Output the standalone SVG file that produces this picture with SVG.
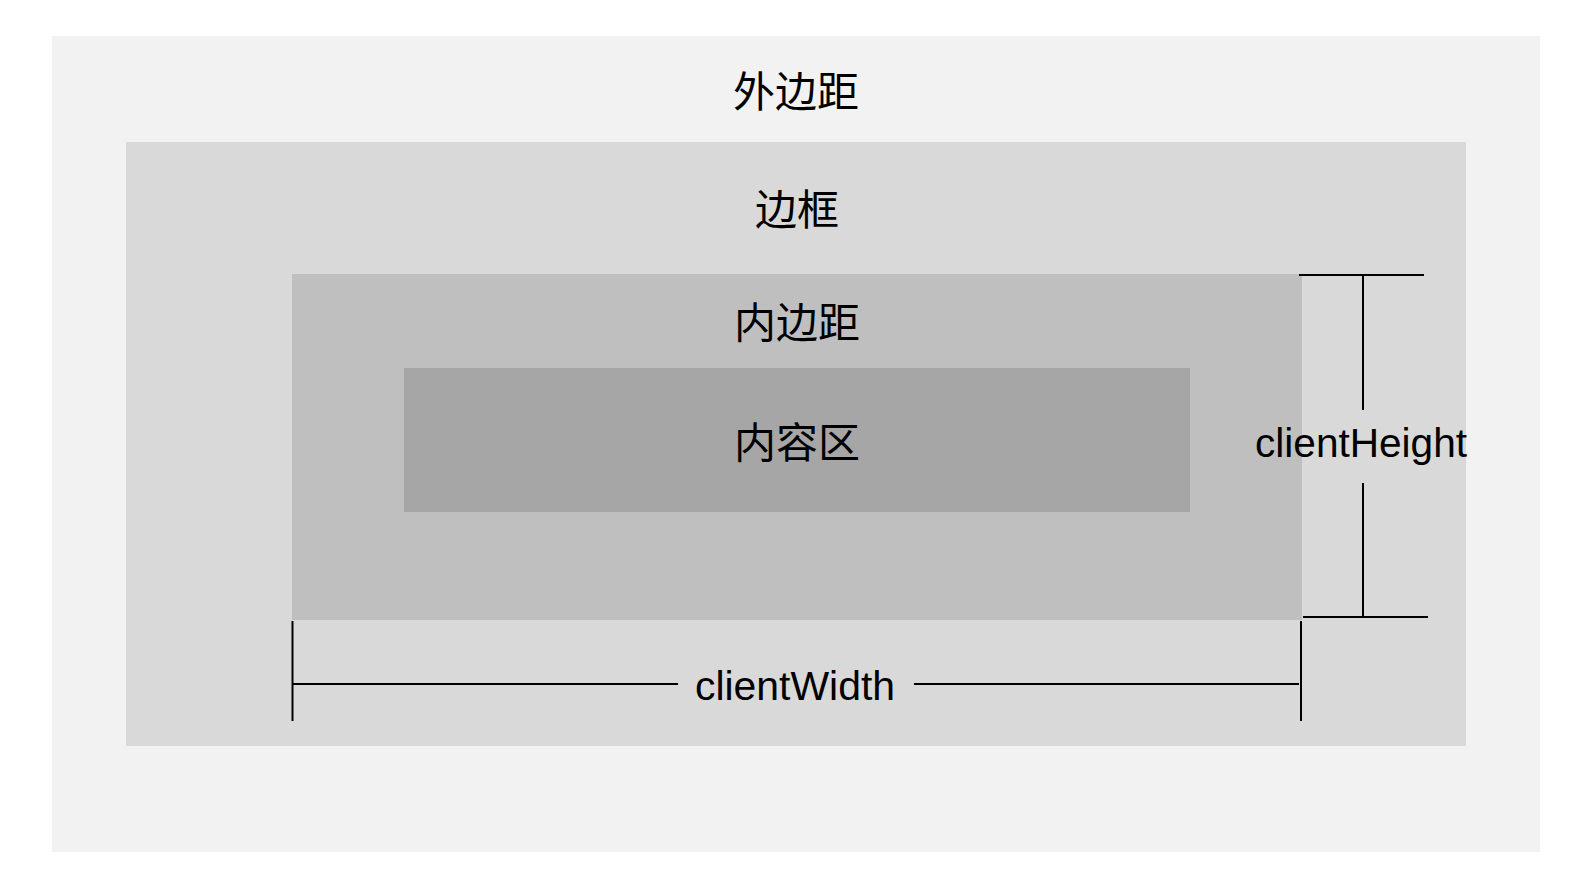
<svg xmlns="http://www.w3.org/2000/svg" width="1588" height="880" viewBox="0 0 1588 880">
<style>
.cjk{font-family:"Noto Sans CJK SC","Liberation Sans",sans-serif;font-size:42px;fill:#000;text-anchor:middle}
.lat{font-family:"Liberation Sans","Noto Sans",sans-serif;font-size:40px;fill:#000;text-anchor:middle}
.dim{stroke:#000;stroke-width:2;fill:none}
</style>
<rect width="1588" height="880" fill="#fff"/>
<g id="margin"><rect x="52" y="36" width="1488" height="816" fill="#f2f2f2"/><text class="cjk" x="796" y="107">外边距</text></g>
<g id="border"><rect x="126" y="142" width="1340" height="604" fill="#d9d9d9"/><text class="cjk" x="797" y="225">边框</text></g>
<g id="padding"><rect x="292" y="274" width="1010" height="346" fill="#bfbfbf"/><text class="cjk" x="797" y="338">内边距</text></g>
<g id="content"><rect x="404" y="368" width="786" height="144" fill="#a6a6a6"/><text class="cjk" x="797" y="458">内容区</text></g>
<g id="connectors">
<line class="dim" x1="1299" y1="275" x2="1424" y2="275"/>
<line class="dim" x1="1303" y1="617" x2="1428" y2="617"/>
<line class="dim" x1="1363" y1="275" x2="1363" y2="410"/>
<line class="dim" x1="1363" y1="483" x2="1363" y2="617"/>
<line class="dim" x1="292.5" y1="621" x2="292.5" y2="721"/>
<line class="dim" x1="1301" y1="621" x2="1301" y2="721"/>
<line class="dim" x1="292" y1="684" x2="678" y2="684"/>
<line class="dim" x1="914" y1="684" x2="1299" y2="684"/>
</g>
<g id="clientHeight"><text class="lat" x="1361" y="457" textLength="212" lengthAdjust="spacingAndGlyphs">clientHeight</text></g>
<g id="clientWidth"><text class="lat" x="795" y="700" textLength="200" lengthAdjust="spacingAndGlyphs">clientWidth</text></g>
</svg>
